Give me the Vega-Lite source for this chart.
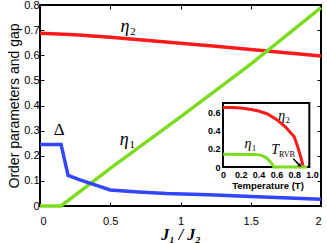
{
  "$schema": "https://vega.github.io/schema/vega-lite/v6.json",
  "width": 281,
  "height": 201,
  "autosize": {"type": "none"},
  "padding": {"left": 40, "top": 5, "right": 6, "bottom": 37},
  "config": {
    "view": {"stroke": "black", "strokeWidth": 2},
    "font": "Liberation Sans",
    "axis": {"labelColor": "black", "titleColor": "black", "tickColor": "black", "domainColor": "black"}
  },
  "datasets": {
    "main": [
      {"s": "eta2", "x": 0, "y": 0.688},
      {"s": "eta2", "x": 0.25, "y": 0.682},
      {"s": "eta2", "x": 0.5, "y": 0.672},
      {"s": "eta2", "x": 0.75, "y": 0.66},
      {"s": "eta2", "x": 1, "y": 0.648},
      {"s": "eta2", "x": 1.25, "y": 0.636},
      {"s": "eta2", "x": 1.5, "y": 0.623},
      {"s": "eta2", "x": 1.75, "y": 0.61},
      {"s": "eta2", "x": 2, "y": 0.597},
      {"s": "eta1", "x": 0, "y": 0},
      {"s": "eta1", "x": 0.15, "y": 0},
      {"s": "eta1", "x": 0.5, "y": 0.15},
      {"s": "eta1", "x": 1, "y": 0.355},
      {"s": "eta1", "x": 1.5, "y": 0.565},
      {"s": "eta1", "x": 2, "y": 0.79},
      {"s": "delta", "x": 0, "y": 0.245},
      {"s": "delta", "x": 0.15, "y": 0.245},
      {"s": "delta", "x": 0.2, "y": 0.122},
      {"s": "delta", "x": 0.28, "y": 0.105},
      {"s": "delta", "x": 0.37, "y": 0.088},
      {"s": "delta", "x": 0.5, "y": 0.064},
      {"s": "delta", "x": 0.7, "y": 0.056},
      {"s": "delta", "x": 0.9, "y": 0.05},
      {"s": "delta", "x": 1.2, "y": 0.045},
      {"s": "delta", "x": 1.5, "y": 0.038},
      {"s": "delta", "x": 2, "y": 0.027}
    ],
    "mainLabels": [
      {"sym": "η", "sub": "2", "x": 0.605, "y": 0.714},
      {"sym": "η", "sub": "1", "x": 0.6, "y": 0.261}
    ],
    "deltaLabel": [
      {"sym": "Δ", "x": 0.137, "y": 0.301}
    ],
    "inset": [
      {"s": "eta2", "t": 0, "y": 0.65},
      {"s": "eta2", "t": 0.1, "y": 0.65},
      {"s": "eta2", "t": 0.2, "y": 0.645},
      {"s": "eta2", "t": 0.3, "y": 0.632},
      {"s": "eta2", "t": 0.4, "y": 0.612},
      {"s": "eta2", "t": 0.5, "y": 0.58},
      {"s": "eta2", "t": 0.6, "y": 0.52},
      {"s": "eta2", "t": 0.7, "y": 0.44},
      {"s": "eta2", "t": 0.8, "y": 0.33},
      {"s": "eta2", "t": 0.84, "y": 0.22},
      {"s": "eta2", "t": 0.87, "y": 0.12},
      {"s": "eta2", "t": 0.89, "y": 0.05},
      {"s": "eta2", "t": 0.9, "y": 0},
      {"s": "eta1", "t": 0, "y": 0.14},
      {"s": "eta1", "t": 0.35, "y": 0.138},
      {"s": "eta1", "t": 0.42, "y": 0.13},
      {"s": "eta1", "t": 0.48, "y": 0.105},
      {"s": "eta1", "t": 0.52, "y": 0.07},
      {"s": "eta1", "t": 0.55, "y": 0.035},
      {"s": "eta1", "t": 0.57, "y": 0},
      {"s": "eta1", "t": 0.945, "y": 0}
    ],
    "insetLabels": [
      {"sym": "η", "sub": "2", "t": 0.66, "y": 0.56},
      {"sym": "η", "sub": "1", "t": 0.28, "y": 0.25},
      {"sym": "T", "sub": "RVB", "t": 0.585, "y": 0.185}
    ],
    "frame": [{"t": 0, "t2": 0.97, "y": 0, "y2": 0.7}],
    "arrow": [{"t": 0.79, "y": 0.09, "t2": 0.865, "y2": 0.015}]
  },
  "layer": [
    {
      "data": {"name": "main"},
      "mark": {"type": "line", "strokeWidth": 3.5},
      "encoding": {
        "x": {"field": "x", "type": "quantitative",
              "scale": {"domain": [0, 2], "nice": false, "zero": false},
              "axis": {"orient": "bottom", "values": [0, 0.5, 1, 1.5, 2], "format": "~g", "domain": false, "grid": false,
                       "tickSize": -4, "tickWidth": 1, "labelFontSize": 11, "labelPadding": 13,
                       "title": "J₁ / J₂", "titleFont": "Liberation Serif", "titleFontStyle": "italic", "titleFontWeight": "bold",
                       "titleFontSize": 16, "titlePadding": 0}},
        "y": {"field": "y", "type": "quantitative",
              "scale": {"domain": [0, 0.8], "nice": false},
              "axis": {"orient": "left", "values": [0, 0.1, 0.2, 0.3, 0.4, 0.5, 0.6, 0.7, 0.8], "format": "~g", "domain": false, "grid": false,
                       "tickSize": -4, "tickWidth": 1, "labelFontSize": 11, "labelPadding": 5,
                       "title": "Order parameters and gap", "titleFontSize": 14, "titleFontWeight": "normal", "titlePadding": 2}},
        "color": {"field": "s", "type": "nominal", "legend": null,
                  "scale": {"domain": ["eta2", "eta1", "delta"], "range": ["#ff1a1a", "#7ddc1f", "#3346ff"]}},
        "detail": {"field": "s"}
      }
    },
    {
      "data": {"name": "main"},
      "mark": {"type": "line", "opacity": 0},
      "encoding": {
        "x": {"field": "x", "type": "quantitative",
              "scale": {"domain": [0, 2], "nice": false, "zero": false},
              "axis": {"orient": "top", "values": [0, 0.5, 1, 1.5, 2], "labels": false, "domain": false, "grid": false,
                       "tickSize": -4, "tickWidth": 1, "title": null}},
        "y": {"field": "y", "type": "quantitative",
              "scale": {"domain": [0, 0.8], "nice": false},
              "axis": {"orient": "right", "values": [0, 0.1, 0.2, 0.3, 0.4, 0.5, 0.6, 0.7, 0.8], "labels": false, "domain": false, "grid": false,
                       "tickSize": -4, "tickWidth": 1, "title": null}},
        "detail": {"field": "s"}
      }
    },
    {
      "data": {"name": "mainLabels"},
      "mark": {"type": "text", "font": "Liberation Serif", "fontStyle": "italic", "fontSize": 18, "align": "center", "baseline": "middle", "color": "black"},
      "encoding": {
        "x": {"field": "x", "type": "quantitative", "scale": {"domain": [0, 2], "nice": false, "zero": false}, "axis": null},
        "y": {"field": "y", "type": "quantitative", "scale": {"domain": [0, 0.8], "nice": false}, "axis": null},
        "text": {"field": "sym"}
      }
    },
    {
      "data": {"name": "mainLabels"},
      "mark": {"type": "text", "font": "Liberation Serif", "fontSize": 11, "align": "center", "baseline": "middle", "dx": 8, "dy": 5, "color": "black"},
      "encoding": {
        "x": {"field": "x", "type": "quantitative", "scale": {"domain": [0, 2], "nice": false, "zero": false}, "axis": null},
        "y": {"field": "y", "type": "quantitative", "scale": {"domain": [0, 0.8], "nice": false}, "axis": null},
        "text": {"field": "sub"}
      }
    },
    {
      "data": {"name": "deltaLabel"},
      "mark": {"type": "text", "font": "Liberation Serif", "fontSize": 17, "align": "center", "baseline": "middle", "color": "black"},
      "encoding": {
        "x": {"field": "x", "type": "quantitative", "scale": {"domain": [0, 2], "nice": false, "zero": false}, "axis": null},
        "y": {"field": "y", "type": "quantitative", "scale": {"domain": [0, 0.8], "nice": false}, "axis": null},
        "text": {"field": "sym"}
      }
    },
    {
      "data": {"name": "frame"},
      "mark": {"type": "rect", "fill": "white", "stroke": "black", "strokeWidth": 2},
      "encoding": {
        "x": {"field": "t", "type": "quantitative",
              "scale": {"domain": [0, 1], "range": [183, 272], "nice": false, "zero": false}, "axis": null},
        "x2": {"field": "t2"},
        "y": {"field": "y", "type": "quantitative",
              "scale": {"domain": [0, 0.7], "range": [162, 98], "nice": false}, "axis": null},
        "y2": {"field": "y2"}
      }
    },
    {
      "data": {"name": "inset"},
      "mark": {"type": "line", "strokeWidth": 3},
      "encoding": {
        "x": {"field": "t", "type": "quantitative",
              "scale": {"domain": [0, 1], "range": [183, 272], "nice": false, "zero": false},
              "axis": {"orient": "bottom", "offset": -39, "values": [0, 0.2, 0.4, 0.6, 0.8, 1],
                       "labelExpr": "datum.value == 0 ? '0' : format(datum.value, '.1f')",
                       "domain": false, "ticks": false, "grid": false, "labelFontSize": 9, "labelFontWeight": "bold", "labelPadding": 3,
                       "labelFlush": false,
                       "title": "Temperature (T)", "titleFontSize": 9.5, "titleFontWeight": "bold", "titlePadding": 1}},
        "y": {"field": "y", "type": "quantitative",
              "scale": {"domain": [0, 0.7], "range": [162, 98], "nice": false},
              "axis": {"orient": "left", "offset": -183, "values": [0, 0.2, 0.4, 0.6],
                       "labelExpr": "datum.value == 0 ? '0' : format(datum.value, '.1f')",
                       "domain": false, "ticks": false, "grid": false, "labelFontSize": 9, "labelFontWeight": "bold", "labelPadding": 3,
                       "labelFlush": false, "title": null}},
        "color": {"field": "s", "type": "nominal", "legend": null,
                  "scale": {"domain": ["eta2", "eta1"], "range": ["#ff1a1a", "#7ddc1f"]}},
        "detail": {"field": "s"}
      }
    },
    {
      "data": {"name": "insetLabels"},
      "mark": {"type": "text", "font": "Liberation Serif", "fontStyle": "italic", "fontSize": 14, "align": "center", "baseline": "middle", "color": "black"},
      "encoding": {
        "x": {"field": "t", "type": "quantitative", "scale": {"domain": [0, 1], "range": [183, 272], "nice": false, "zero": false}, "axis": null},
        "y": {"field": "y", "type": "quantitative", "scale": {"domain": [0, 0.7], "range": [162, 98], "nice": false}, "axis": null},
        "text": {"field": "sym"}
      }
    },
    {
      "data": {"name": "insetLabels"},
      "mark": {"type": "text", "font": "Liberation Serif", "fontSize": 8, "align": "left", "baseline": "middle", "dx": 4, "dy": 5, "color": "black"},
      "encoding": {
        "x": {"field": "t", "type": "quantitative", "scale": {"domain": [0, 1], "range": [183, 272], "nice": false, "zero": false}, "axis": null},
        "y": {"field": "y", "type": "quantitative", "scale": {"domain": [0, 0.7], "range": [162, 98], "nice": false}, "axis": null},
        "text": {"field": "sub"}
      }
    },
    {
      "data": {"name": "arrow"},
      "mark": {"type": "rule", "strokeWidth": 1.5, "color": "black"},
      "encoding": {
        "x": {"field": "t", "type": "quantitative", "scale": {"domain": [0, 1], "range": [183, 272], "nice": false, "zero": false}, "axis": null},
        "y": {"field": "y", "type": "quantitative", "scale": {"domain": [0, 0.7], "range": [162, 98], "nice": false}, "axis": null},
        "x2": {"field": "t2"},
        "y2": {"field": "y2"}
      }
    },
    {
      "data": {"name": "arrow"},
      "mark": {"type": "point", "shape": "triangle-up", "angle": 135, "size": 18, "filled": true, "color": "black", "opacity": 1},
      "encoding": {
        "x": {"field": "t2", "type": "quantitative", "scale": {"domain": [0, 1], "range": [183, 272], "nice": false, "zero": false}, "axis": null},
        "y": {"field": "y2", "type": "quantitative", "scale": {"domain": [0, 0.7], "range": [162, 98], "nice": false}, "axis": null}
      }
    }
  ],
  "resolve": {"scale": {"x": "independent", "y": "independent", "color": "independent"}, "axis": {"x": "independent", "y": "independent"}}
}
